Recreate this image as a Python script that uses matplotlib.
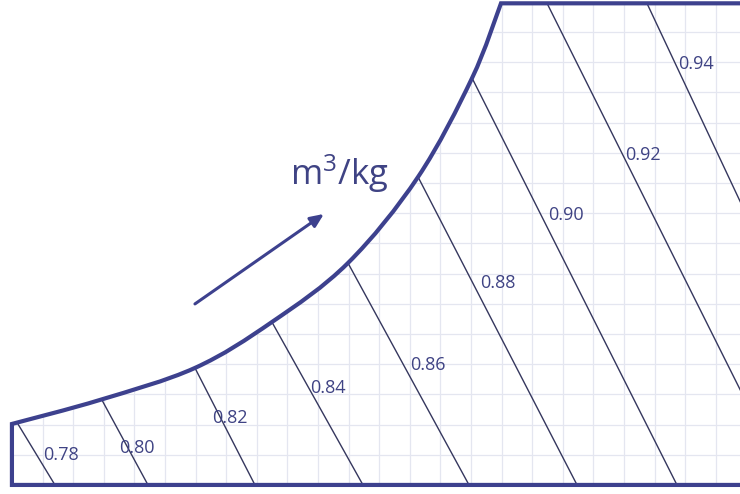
import matplotlib
matplotlib.use("Agg")
import matplotlib.pyplot as plt
from matplotlib.patches import PathPatch
from matplotlib.path import Path

plt.rcParams['font.family'] = ['Open Sans', 'DejaVu Sans']
plt.rcParams['mathtext.fontset'] = 'custom'
plt.rcParams['mathtext.rm'] = 'Open Sans'
plt.rcParams['mathtext.it'] = 'Open Sans'

# Saturation curve: dry-bulb temperature (°C) vs humidity ratio (g/kg)
sat_t = [0.00, 5.75, 11.96, 16.99, 21.96, 26.54, 30.07, 31.96]
sat_w = [4.04, 5.63, 7.75, 10.79, 14.70, 20.40, 26.95, 31.90]

w_top = 31.9          # upper humidity limit of the chart
t_right = 60.0        # right extent (beyond the visible area)

# Specific volume lines (m³/kg): start / end points in (°C, g/kg)
vol_values = ["0.78", "0.80", "0.82", "0.84", "0.86", "0.88", "0.90", "0.92", "0.94"]
vol_t0 = [0.39, 5.88, 11.96, 16.99, 21.96, 26.54, 30.07, 34.97, 41.50]
vol_w0 = [4.04, 5.63, 7.75, 10.79, 14.70, 20.40, 26.95, 31.9, 31.9]
vol_t1 = [2.81, 8.89, 15.88, 22.94, 29.87, 36.93, 43.46, 50.7, 56.3]
vol_w1 = [0.0, 0.0, 0.0, 0.0, 0.0, 0.0, 0.0, 0.0, 0.0]

# Label anchors (left edge, vertical centre)
lab_t = [2.03, 6.99, 13.07, 19.48, 26.01, 30.59, 35.03, 40.07, 43.53]
lab_w = [1.99, 2.45, 4.44, 6.42, 7.95, 13.38, 17.88, 21.85, 27.88]

# Direction arrow and unit caption
arrow_from = (11.96, 11.99)
arrow_to = (20.39, 17.95)
unit_text = r"m$^{3}$/kg"
unit_pos = (18.17, 19.87)

border_c = "#3d418e"
line_c = "#35375e"
text_c = "#3f4384"
grid_c = "#e4e6f0"


def smooth_path(xs, ys):
    """Catmull-Rom curve through the given points, as cubic Bezier segments."""
    pts = list(zip(xs, ys))
    verts = [pts[0]]
    codes = [Path.MOVETO]
    n = len(pts)
    for i in range(n - 1):
        p0 = pts[i - 1] if i > 0 else pts[i]
        p1 = pts[i]
        p2 = pts[i + 1]
        p3 = pts[i + 2] if i + 2 < n else pts[i + 1]
        c1 = (p1[0] + (p2[0] - p0[0]) / 6, p1[1] + (p2[1] - p0[1]) / 6)
        c2 = (p2[0] - (p3[0] - p1[0]) / 6, p2[1] - (p3[1] - p1[1]) / 6)
        verts += [c1, c2, p2]
        codes += [Path.CURVE4] * 3
    return verts, codes


fig = plt.figure(figsize=(7.4, 4.94), dpi=100)
ax = fig.add_axes([0, 0, 1, 1])
ax.set_xlim(-0.78, 47.58)
ax.set_ylim(-0.60, 32.12)
ax.axis("off")

curve_v, curve_c = smooth_path(sat_t, sat_w)

# Region below the saturation curve, used to clip grid and lines
reg_v = [(t_right, 0.0), (0.0, 0.0)] + curve_v + [(t_right, w_top), (t_right, 0.0)]
reg_c = [Path.MOVETO, Path.LINETO, Path.LINETO] + curve_c[1:] + [Path.LINETO, Path.CLOSEPOLY]
clip = PathPatch(Path(reg_v, reg_c), transform=ax.transData, facecolor="none", edgecolor="none")
ax.add_patch(clip)

for t in range(0, 50, 2):
    ln, = ax.plot([t, t], [0, w_top], color=grid_c, lw=0.9, zorder=1)
    ln.set_clip_path(clip)
for w in range(2, 32, 2):
    ln, = ax.plot([0, t_right], [w, w], color=grid_c, lw=0.9, zorder=1)
    ln.set_clip_path(clip)

for t0, w0, t1, w1 in zip(vol_t0, vol_w0, vol_t1, vol_w1):
    ln, = ax.plot([t0, t1], [w0, w1], color=line_c, lw=1.0, zorder=2)
    ln.set_clip_path(clip)

for txt, t, w in zip(vol_values, lab_t, lab_w):
    ax.text(t, w, txt, color=text_c, fontsize=13, ha="left", va="center", zorder=4)

# Chart outline: bottom, left edge, saturation curve, top
out_v = [(t_right, 0.0), (0.0, 0.0)] + curve_v + [(t_right, w_top)]
out_c = [Path.MOVETO, Path.LINETO, Path.LINETO] + curve_c[1:] + [Path.LINETO]
ax.add_patch(PathPatch(Path(out_v, out_c), facecolor="none", edgecolor=border_c,
                       lw=3.0, joinstyle="miter", capstyle="butt", zorder=3))

ax.annotate("", xy=arrow_to, xytext=arrow_from,
            arrowprops=dict(arrowstyle="-|>,head_length=0.8,head_width=0.35",
                            color=border_c, lw=2.2, shrinkA=0, shrinkB=0))
ax.text(unit_pos[0], unit_pos[1], unit_text, color=text_c, fontsize=25,
        ha="left", va="baseline")

fig.savefig("out.png", dpi=100, facecolor="white")
